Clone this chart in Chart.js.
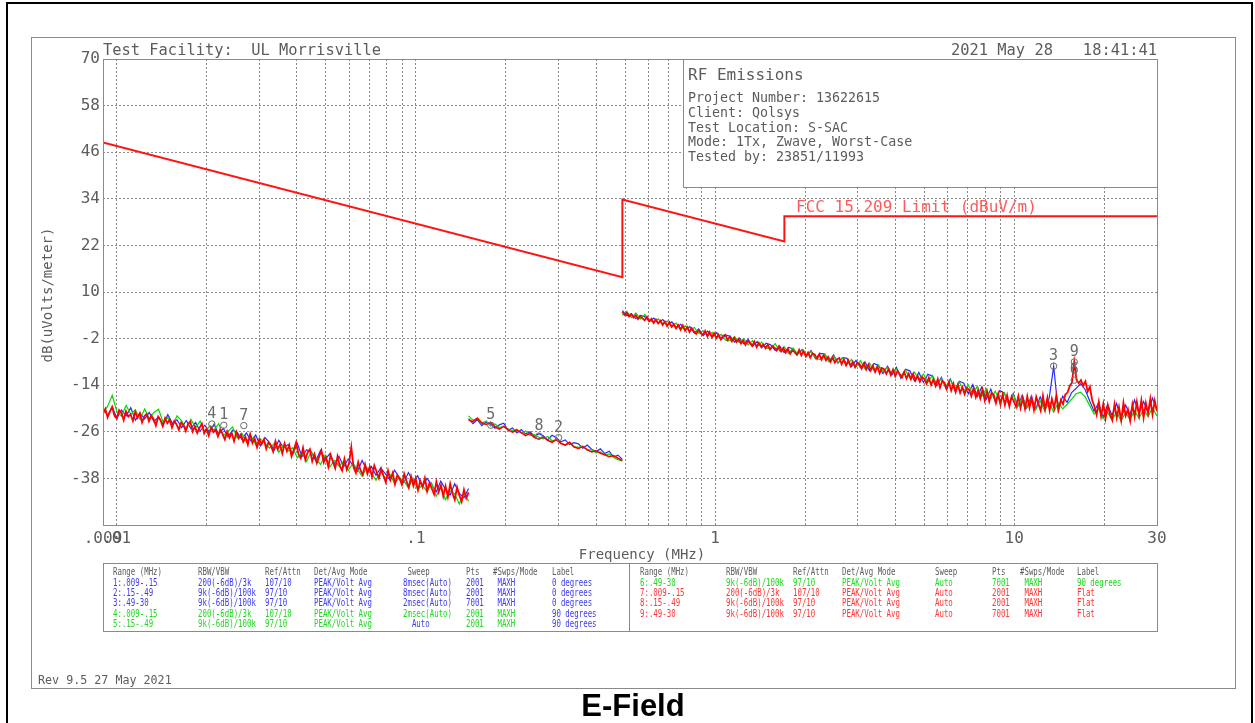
<!DOCTYPE html>
<html>
<head>
<meta charset="utf-8">
<script src="https://cdn.jsdelivr.net/npm/chart.js@4.4.1/dist/chart.umd.min.js"></script>
<style>
  html, body { margin: 0; padding: 0; background: #fff; overflow: hidden; }
  canvas { display: block; }
</style>
</head>
<body>
<canvas id="plot" width="1255" height="723"></canvas>
<script>
// ---- axis ticks ----
const yTickValues = [70, 58, 46, 34, 22, 10, -2, -14, -26, -38, -50];
const xGridValues = [0.009, 0.01, 0.02, 0.03, 0.04, 0.05, 0.06, 0.07, 0.08, 0.09,
  0.1, 0.2, 0.3, 0.4, 0.5, 0.6, 0.7, 0.8, 0.9,
  1, 2, 3, 4, 5, 6, 7, 8, 9, 10, 20, 30];
const xLabelValues = [0.009, 0.01, 0.1, 1, 10, 30];
const xLabelTexts = ['.009', '.01', '.1', '1', '10', '30'];

// ---- FCC 15.209 limit (dBuV/m) ----
const limitFreqs = [0.009, 0.49, 0.49, 1.705, 1.705, 30];
const limitLevels = [48.5, 13.8, 33.8, 23.0, 29.5, 29.5];

// ---- sweep ranges (MHz) ----
const range1 = [0.009, 0.15];
const range2 = [0.15, 0.49];
const range3 = [0.49, 30];

// ---- measured traces, dBuV/m ----
// 0 degrees (blue)
const blue1 = [-20.0, -21.8, -19.6, -22.5, -20.4, -21.9, -19.8, -23.0, -21.2, -22.7,
  -21.0, -23.4, -22.1, -24.2, -21.6, -23.8, -22.9, -24.9, -23.1, -25.2,
  -23.6, -25.8, -24.3, -26.1, -24.0, -26.7, -25.1, -27.3, -25.6, -26.2,
  -27.9, -26.3, -28.4, -26.8, -29.6, -27.5, -28.8, -30.7, -28.2, -30.1,
  -29.3, -31.8, -29.0, -32.4, -30.6, -31.2, -33.5, -30.8, -33.1, -31.7,
  -34.2, -32.3, -35.0, -33.0, -34.6, -36.1, -33.4, -35.8, -34.9, -37.2,
  -35.3, -36.8, -38.4, -35.9, -37.7, -39.1, -36.5, -38.8, -37.3, -40.2,
  -38.0, -39.6, -41.5, -38.7, -40.8, -42.3, -39.4, -41.9, -43.0, -40.6];
const blue2 = [-22.6, -23.9, -22.9, -24.4, -23.5, -24.0, -25.1, -24.2, -23.8, -25.6,
  -25.0, -26.3, -25.4, -26.6, -26.0, -27.2, -26.5, -27.0, -28.1, -26.9,
  -27.5, -28.6, -28.1, -29.3, -28.8, -29.1, -30.2, -29.4, -30.5, -31.1,
  -30.4, -31.6, -31.0, -32.5, -32.0, -33.1];
const blue3 = [5.2, 3.9, 4.4, 3.1, 4.0, 3.6, 2.4, 3.3, 2.0, 2.9,
  1.5, 2.3, 0.8, 1.7, 0.2, 1.1, -0.6, 0.5, -1.2, -0.1,
  -1.6, -0.5, -2.2, -1.1, -1.4, -2.9, -1.8, -3.3, -2.2, -3.9,
  -2.8, -4.4, -3.2, -3.6, -5.0, -3.9, -5.6, -4.3, -4.6, -6.1,
  -4.8, -6.5, -5.1, -7.2, -5.8, -6.0, -7.9, -6.2, -8.3, -6.9,
  -7.1, -9.2, -7.6, -9.5, -8.0, -10.3, -8.4, -8.9, -11.0, -9.1,
  -11.4, -9.4, -12.2, -9.9, -10.3, -12.9, -10.7, -13.3, -11.2, -11.6,
  -14.1, -12.0, -14.8, -12.4, -15.3, -13.0, -13.5, -16.2, -13.8, -16.9,
  -14.5, -17.6, -15.0, -18.2, -15.4, -16.0, -18.9, -16.1, -19.5, -16.6,
  -19.9, -16.9, -20.2, -17.0, -19.8, -17.4, -9.1, -20.6, -16.8, -18.4,
  -15.9, -14.8, -13.6, -15.1, -18.0, -20.7, -18.6, -22.3, -19.0, -21.8,
  -18.7, -22.5, -19.1, -21.6, -17.8, -21.2, -18.2, -20.9, -17.3, -20.5];
// 90 degrees (green)
const green1 = [-21.2, -19.4, -16.6, -20.8, -22.0, -19.2, -21.5, -20.3, -22.8, -20.1,
  -22.6, -21.0, -20.2, -23.5, -22.4, -24.6, -21.9, -23.2, -25.3, -22.8,
  -24.9, -23.2, -26.0, -24.6, -25.5, -23.9, -27.0, -25.9, -24.8, -27.6,
  -26.4, -28.5, -27.1, -29.3, -27.8, -28.9, -30.2, -29.0, -31.3, -29.5,
  -31.0, -30.1, -32.7, -31.4, -33.6, -31.1, -32.9, -34.4, -32.0, -35.1,
  -33.3, -34.8, -33.6, -36.0, -34.1, -35.7, -37.4, -35.2, -36.6, -38.5,
  -36.2, -38.0, -36.9, -39.3, -37.8, -38.6, -40.4, -37.9, -40.9, -39.7,
  -41.4, -39.2, -42.6, -40.3, -43.5, -41.1, -42.0, -44.6, -41.8, -43.9];
const green2 = [-21.9, -23.0, -22.7, -23.8, -23.2, -24.5, -24.0, -24.9, -24.6, -25.2,
  -25.7, -25.3, -26.4, -25.8, -26.9, -26.7, -27.4, -27.8, -27.2, -28.3,
  -28.0, -28.8, -29.5, -28.9, -29.8, -30.0, -29.7, -30.8, -30.6, -31.4,
  -31.2, -32.0, -31.7, -32.6, -33.2, -33.5];
const green3 = [4.0, 5.0, 3.4, 4.6, 3.0, 4.2, 2.7, 2.2, 3.1, 1.8,
  2.5, 1.1, 2.0, 0.4, 1.3, -0.1, 0.9, -0.7, 0.0, -1.3,
  -0.4, -1.9, -0.9, -2.4, -2.6, -1.5, -3.0, -2.0, -3.6, -2.5,
  -4.1, -2.9, -4.4, -4.7, -3.3, -5.2, -4.1, -5.8, -4.4, -6.0,
  -5.0, -6.6, -5.3, -7.0, -7.4, -5.9, -7.8, -6.5, -8.2, -7.0,
  -8.7, -7.4, -9.3, -7.7, -9.8, -8.3, -10.2, -8.8, -10.5, -9.4,
  -11.0, -9.8, -11.6, -10.1, -12.1, -10.6, -12.5, -11.1, -13.2, -11.5,
  -13.8, -12.3, -14.3, -12.6, -15.0, -13.2, -15.5, -13.9, -16.2, -14.3,
  -16.9, -14.9, -17.5, -15.5, -18.3, -16.0, -18.8, -16.4, -19.4, -17.1,
  -19.7, -17.6, -20.3, -18.0, -20.6, -18.4, -20.9, -18.5, -20.1, -18.9,
  -17.6, -16.2, -15.8, -17.0, -19.2, -21.4, -20.1, -22.6, -21.0, -23.0,
  -20.9, -23.2, -21.1, -22.8, -20.6, -22.5, -20.3, -22.1, -19.8, -21.9];
// Flat (red)
const red1 = [-21.4, -20.1, -22.3, -20.8, -19.6, -21.9, -22.6, -20.4, -21.1, -23.0,
  -20.7, -22.1, -21.5, -23.2, -20.9, -22.4, -21.2, -23.6, -22.0, -21.4,
  -23.3, -21.8, -22.7, -24.4, -22.1, -23.0, -24.6, -22.5, -23.8, -22.9,
  -24.9, -23.2, -24.1, -25.5, -23.6, -24.3, -25.8, -24.0, -23.4, -25.9,
  -24.6, -26.3, -25.0, -23.9, -26.4, -25.2, -27.0, -24.8, -26.1, -25.5,
  -27.2, -25.4, -26.6, -28.0, -25.9, -27.5, -26.3, -28.4, -26.0, -27.7,
  -26.7, -28.6, -27.4, -29.3, -26.6, -28.9, -27.8, -30.0, -27.9, -29.2,
  -28.0, -30.4, -28.7, -29.6, -31.1, -28.4, -30.5, -29.3, -31.6, -29.0,
  -31.0, -29.4, -32.3, -30.6, -28.7, -31.7, -32.8, -30.1, -33.2, -31.3,
  -30.5, -33.6, -31.8, -34.1, -32.4, -30.8, -33.9, -32.6, -35.0, -31.9,
  -33.7, -35.4, -32.3, -34.8, -36.0, -33.0, -35.7, -34.1, -29.9, -35.2,
  -36.6, -33.8, -35.9, -37.1, -34.4, -36.8, -35.0, -37.6, -34.7, -36.3,
  -38.0, -35.5, -37.3, -39.0, -36.0, -38.4, -36.6, -39.5, -37.2, -38.1,
  -39.6, -36.8, -38.7, -40.4, -37.5, -39.9, -38.0, -41.0, -38.6, -40.2,
  -37.9, -41.3, -39.2, -40.6, -42.1, -38.8, -41.5, -39.7, -42.6, -40.0,
  -42.8, -39.4, -41.9, -43.5, -40.3, -42.4, -44.0, -40.9, -43.1, -41.6];
const red2 = [-22.9, -23.4, -22.5, -23.7, -24.1, -23.6, -24.7, -25.3, -24.6, -25.5,
  -26.1, -25.6, -26.2, -27.0, -26.4, -27.5, -27.9, -27.3, -28.2, -28.7,
  -28.0, -29.0, -29.4, -28.7, -29.9, -30.3, -29.8, -30.6, -31.2, -30.9,
  -31.5, -31.9, -32.4, -32.1, -32.8, -33.4];
const red3 = [4.9, 4.1, 4.6, 3.7, 4.3, 3.4, 4.0, 3.0, 3.8, 3.2,
  2.7, 3.6, 2.5, 3.1, 2.0, 2.9, 1.9, 2.6, 1.5, 2.4,
  1.2, 2.2, 1.0, 1.7, 0.6, 1.5, 0.3, 1.4, 0.0, 1.0,
  -0.3, 0.7, -0.1, -0.8, 0.2, -0.6, -1.1, 0.0, -1.4, -0.3,
  -1.6, -0.6, -1.9, -1.0, -2.2, -1.3, -1.0, -2.4, -1.5, -2.7,
  -1.8, -2.9, -2.2, -3.3, -2.5, -3.6, -2.6, -3.1, -3.9, -2.8,
  -4.2, -3.1, -4.0, -3.5, -4.5, -3.6, -4.8, -3.9, -4.3, -5.1,
  -4.0, -5.3, -4.5, -5.6, -4.6, -5.9, -5.0, -5.5, -6.2, -4.9,
  -6.3, -5.2, -6.6, -5.6, -6.9, -5.8, -6.1, -7.2, -6.0, -7.4,
  -6.3, -7.6, -6.7, -8.0, -6.9, -8.2, -7.3, -7.0, -8.6, -7.4,
  -8.9, -7.6, -9.1, -8.0, -9.4, -8.2, -8.5, -9.7, -8.4, -10.0,
  -8.7, -10.2, -9.0, -10.6, -9.2, -10.9, -9.6, -9.9, -11.1, -9.8,
  -11.4, -10.0, -11.7, -10.3, -11.2, -12.0, -10.6, -12.3, -11.0, -12.5,
  -11.1, -12.8, -11.6, -13.1, -11.9, -12.4, -13.6, -12.1, -13.9, -12.5,
  -14.2, -12.4, -14.6, -12.9, -13.4, -15.0, -13.2, -15.4, -13.6, -15.8,
  -13.9, -16.0, -14.5, -16.3, -14.7, -15.2, -16.8, -14.8, -17.1, -15.3,
  -17.4, -15.1, -17.9, -15.6, -18.2, -16.0, -16.4, -18.6, -16.2, -18.9,
  -16.4, -19.1, -16.6, -19.4, -16.9, -18.2, -19.6, -16.8, -19.9, -17.3,
  -20.1, -16.9, -19.8, -17.3, -20.4, -17.0, -18.8, -20.6, -16.7, -20.2,
  -17.2, -20.5, -17.5, -19.9, -16.6, -20.3, -17.8, -18.9, -16.4, -15.9,
  -14.2, -13.3, -8.0, -12.6, -13.5, -12.7, -14.1, -13.0, -15.6, -14.4,
  -17.8, -19.4, -21.6, -18.3, -22.0, -18.8, -22.6, -19.1, -21.5, -23.0,
  -18.9, -22.4, -19.6, -23.1, -18.5, -21.9, -20.2, -23.2, -19.0, -22.2,
  -18.3, -21.8, -17.9, -22.4, -18.6, -21.3, -17.5, -21.6, -18.0, -20.7];

// ---- markers ----
const markerIds = ['4', '1', '7', '5', '8', '2', '3', '9', '6'];
const markerFreqs = [0.0208, 0.0228, 0.0266, 0.178, 0.258, 0.300, 13.54, 15.87, 15.87];
const markerLevels = [-24.0, -24.3, -24.4, -24.3, -27.1, -27.5, -9.1, -8.0, -12.7];

// ---- header / info text ----
const facilityText = 'Test Facility:  UL Morrisville';
const dateText = '2021 May 28';
const timeText = '18:41:41';
const infoTitle = 'RF Emissions';
const infoLines = ['Project Number: 13622615', 'Client: Qolsys', 'Test Location: S-SAC',
  'Mode: 1Tx, Zwave, Worst-Case', 'Tested by: 23851/11993'];
const limitLabel = 'FCC 15.209 Limit (dBuV/m)';

// ---- settings table ----
const tableHeader = ['Range (MHz)', 'RBW/VBW', 'Ref/Attn', 'Det/Avg Mode', ' Sweep', 'Pts', '#Swps/Mode', 'Label'];
const tableLeftRows = [
  ['1:.009-.15', '200(-6dB)/3k', '107/10', 'PEAK/Volt Avg', '8msec(Auto)', '2001', ' MAXH', '0 degrees'],
  ['2:.15-.49', '9k(-6dB)/100k', '97/10', 'PEAK/Volt Avg', '8msec(Auto)', '2001', ' MAXH', '0 degrees'],
  ['3:.49-30', '9k(-6dB)/100k', '97/10', 'PEAK/Volt Avg', '2msec(Auto)', '7001', ' MAXH', '0 degrees'],
  ['4:.009-.15', '200(-6dB)/3k', '107/10', 'PEAK/Volt Avg', '2msec(Auto)', '2001', ' MAXH', '90 degrees'],
  ['5:.15-.49', '9k(-6dB)/100k', '97/10', 'PEAK/Volt Avg', '  Auto', '2001', ' MAXH', '90 degrees']
];
const tableLeftColors = [
  'bbbbbbbb', 'bbbbbbbb', 'bbbbbbbb', 'gggggggb', 'ggggbggb'
];
const tableRightRows = [
  ['6:.49-30', '9k(-6dB)/100k', '97/10', 'PEAK/Volt Avg', 'Auto', '7001', ' MAXH', '90 degrees'],
  ['7:.009-.15', '200(-6dB)/3k', '107/10', 'PEAK/Volt Avg', 'Auto', '2001', ' MAXH', 'Flat'],
  ['8:.15-.49', '9k(-6dB)/100k', '97/10', 'PEAK/Volt Avg', 'Auto', '2001', ' MAXH', 'Flat'],
  ['9:.49-30', '9k(-6dB)/100k', '97/10', 'PEAK/Volt Avg', 'Auto', '7001', ' MAXH', 'Flat']
];
const tableRightColors = ['gggggggg', 'rrrrrrrr', 'rrrrrrrr', 'rrrrrrrr'];
const footerText = 'Rev 9.5 27 May 2021';
const titleText = 'E-Field';

// ---- drawing code ----
const MONO = '"DejaVu Sans Mono", monospace';
const GREY = '#5c5c5c';
const FRAME = '#8a8a8a';
const TRACE = { b: '#2a2aff', g: '#00dc00', r: '#ff0000' };
const TEXTCOL = { b: '#3a3af0', g: '#20d820', r: '#ff3434' };

// sweep points are spaced evenly across each range on the log axis
function sweep(range, values) {
  const n = values.length;
  const [f0, f1] = range;
  return values.map((v, i) => ({ x: f0 * Math.pow(f1 / f0, i / (n - 1)), y: v }));
}
function trace(range, values, color, width, order) {
  return {
    data: sweep(range, values), borderColor: color, borderWidth: width,
    pointRadius: 0, tension: 0, fill: false, order: order
  };
}

const datasets = [
  {
    data: limitFreqs.map((f, i) => ({ x: f, y: limitLevels[i] })),
    borderColor: '#ff1414', borderWidth: 2, pointRadius: 0, tension: 0, fill: false, order: 0
  },
  trace(range1, blue1, TRACE.b, 1.2, 3), trace(range2, blue2, TRACE.b, 1.2, 3), trace(range3, blue3, TRACE.b, 1.2, 3),
  trace(range1, green1, TRACE.g, 1.2, 2), trace(range2, green2, TRACE.g, 1.2, 2), trace(range3, green3, TRACE.g, 1.2, 2),
  trace(range1, red1, TRACE.r, 1.8, 1), trace(range2, red2, TRACE.r, 1.6, 1), trace(range3, red3, TRACE.r, 1.8, 1)
];

function squeezedText(ctx, text, x, y, sx) {
  ctx.save();
  ctx.translate(x, y);
  ctx.scale(sx, 1);
  ctx.fillText(text, 0, 0);
  ctx.restore();
}

const decorations = {
  id: 'decorations',
  beforeDraw(chart) {
    const ctx = chart.ctx;
    ctx.save();
    ctx.fillStyle = '#fff';
    ctx.fillRect(0, 0, chart.width, chart.height);
    ctx.restore();
  },
  afterDatasetsDraw(chart) {
    const ctx = chart.ctx;
    const a = chart.chartArea;
    const xs = chart.scales.x, ys = chart.scales.y;
    ctx.save();
    // info box
    ctx.fillStyle = '#fff';
    ctx.fillRect(683, 59, a.right - 683, 128);
    ctx.strokeStyle = FRAME;
    ctx.lineWidth = 1;
    ctx.strokeRect(683.5, 59.5, a.right - 683, 128);
    ctx.fillStyle = GREY;
    ctx.textAlign = 'left';
    ctx.textBaseline = 'alphabetic';
    ctx.font = '16px ' + MONO;
    ctx.fillText(infoTitle, 688, 80);
    ctx.font = '13.3px ' + MONO;
    infoLines.forEach((t, i) => ctx.fillText(t, 688, 102 + i * 14.8));
    // limit label
    ctx.fillStyle = '#ff5a5a';
    ctx.font = '16px ' + MONO;
    ctx.fillText(limitLabel, 796, 212);
    // markers
    ctx.strokeStyle = '#6a6a6a';
    ctx.fillStyle = '#6a6a6a';
    ctx.lineWidth = 1;
    ctx.textAlign = 'center';
    ctx.font = '15px ' + MONO;
    markerIds.forEach((id, i) => {
      const px = xs.getPixelForValue(markerFreqs[i]);
      const py = ys.getPixelForValue(markerLevels[i]);
      ctx.beginPath();
      ctx.arc(px, py, 3.2, 0, Math.PI * 2);
      ctx.stroke();
      ctx.fillText(id, px, py - 6);
    });
    // plot frame
    ctx.strokeStyle = FRAME;
    ctx.strokeRect(Math.round(a.left) + 0.5, Math.round(a.top) + 0.5,
      Math.round(a.right - a.left), Math.round(a.bottom - a.top));
    ctx.restore();
  },
  afterDraw(chart) {
    const ctx = chart.ctx;
    const a = chart.chartArea;
    ctx.save();
    // page borders
    ctx.strokeStyle = '#000';
    ctx.lineWidth = 2;
    ctx.beginPath();
    ctx.moveTo(7, 723); ctx.lineTo(7, 3); ctx.lineTo(1252, 3); ctx.lineTo(1252, 723);
    ctx.stroke();
    ctx.strokeStyle = FRAME;
    ctx.lineWidth = 1;
    ctx.strokeRect(31.5, 37.5, 1204, 651);
    // header
    ctx.fillStyle = GREY;
    ctx.textBaseline = 'alphabetic';
    ctx.font = '15.4px ' + MONO;
    ctx.textAlign = 'left';
    ctx.fillText(facilityText, 103, 55);
    ctx.fillText(dateText, 951, 55);
    ctx.textAlign = 'right';
    ctx.fillText(timeText, 1157, 55);
    // axis titles
    ctx.textAlign = 'center';
    ctx.font = '14px ' + MONO;
    ctx.fillText('Frequency (MHz)', 642, 559);
    ctx.save();
    ctx.translate(52, 295);
    ctx.rotate(-Math.PI / 2);
    ctx.fillText('dB(uVolts/meter)', 0, 0);
    ctx.restore();
    // settings table
    const tTop = 563, tBot = 631, tDiv = 629;
    ctx.strokeStyle = FRAME;
    ctx.strokeRect(a.left + 0.5, tTop + 0.5, a.right - a.left, tBot - tTop);
    ctx.beginPath();
    ctx.moveTo(tDiv + 0.5, tTop); ctx.lineTo(tDiv + 0.5, tBot);
    ctx.stroke();
    ctx.textAlign = 'left';
    ctx.font = '10px ' + MONO;
    const sx = 0.74;
    const rowY = [575, 585.5, 596, 606.3, 616.7, 627];
    const leftCols = [113, 198, 265, 314, 403, 466, 493, 552];
    const rightCols = [640, 726, 793, 842, 935, 992, 1020, 1077];
    ctx.fillStyle = GREY;
    tableHeader.forEach((t, c) => {
      squeezedText(ctx, t, leftCols[c], rowY[0], sx);
      squeezedText(ctx, t.trim(), rightCols[c], rowY[0], sx);
    });
    tableLeftRows.forEach((row, r) => row.forEach((t, c) => {
      ctx.fillStyle = TEXTCOL[tableLeftColors[r][c]];
      squeezedText(ctx, t, leftCols[c], rowY[r + 1], sx);
    }));
    tableRightRows.forEach((row, r) => row.forEach((t, c) => {
      ctx.fillStyle = TEXTCOL[tableRightColors[r][c]];
      squeezedText(ctx, t, rightCols[c], rowY[r + 1], sx);
    }));
    // footer and title
    ctx.fillStyle = GREY;
    ctx.font = '11.7px ' + MONO;
    ctx.fillText(footerText, 38, 684);
    ctx.fillStyle = '#000';
    ctx.textAlign = 'center';
    ctx.font = 'bold 31px "Liberation Sans", Arial, sans-serif';
    ctx.fillText(titleText, 633, 716);
    ctx.restore();
  }
};

Chart.defaults.font.family = MONO;

new Chart(document.getElementById('plot'), {
  type: 'line',
  data: { datasets: datasets },
  plugins: [decorations],
  options: {
    responsive: false,
    animation: false,
    devicePixelRatio: 1,
    events: [],
    layout: { padding: { left: 0, top: 59, right: 98, bottom: 168 } },
    plugins: { legend: { display: false }, tooltip: { enabled: false } },
    scales: {
      x: {
        type: 'logarithmic',
        min: range1[0], max: range3[1],
        afterBuildTicks: (scale) => { scale.ticks = xGridValues.map(v => ({ value: v })); },
        afterFit: (scale) => { scale.height = 30; },
        ticks: {
          autoSkip: false, maxRotation: 0, minRotation: 0, padding: 4,
          color: GREY, font: { size: 16, family: MONO },
          callback: (value) => {
            const k = xLabelValues.findIndex(v => Math.abs(v - value) < v * 1e-6);
            return k >= 0 ? xLabelTexts[k] : '';
          }
        },
        grid: { color: '#8c8c8c', lineWidth: 1, drawTicks: false },
        border: { display: false, dash: [2, 2] }
      },
      y: {
        type: 'linear',
        min: -50, max: 70,
        afterBuildTicks: (scale) => { scale.ticks = yTickValues.map(v => ({ value: v })); },
        afterFit: (scale) => { scale.width = 103; },
        ticks: {
          padding: 3, color: GREY, font: { size: 16, family: MONO },
          callback: (value) => (value === -50 ? '' : String(value))
        },
        grid: { color: '#8c8c8c', lineWidth: 1, drawTicks: false },
        border: { display: false, dash: [2, 2] }
      }
    }
  }
});
</script>
</body>
</html>
